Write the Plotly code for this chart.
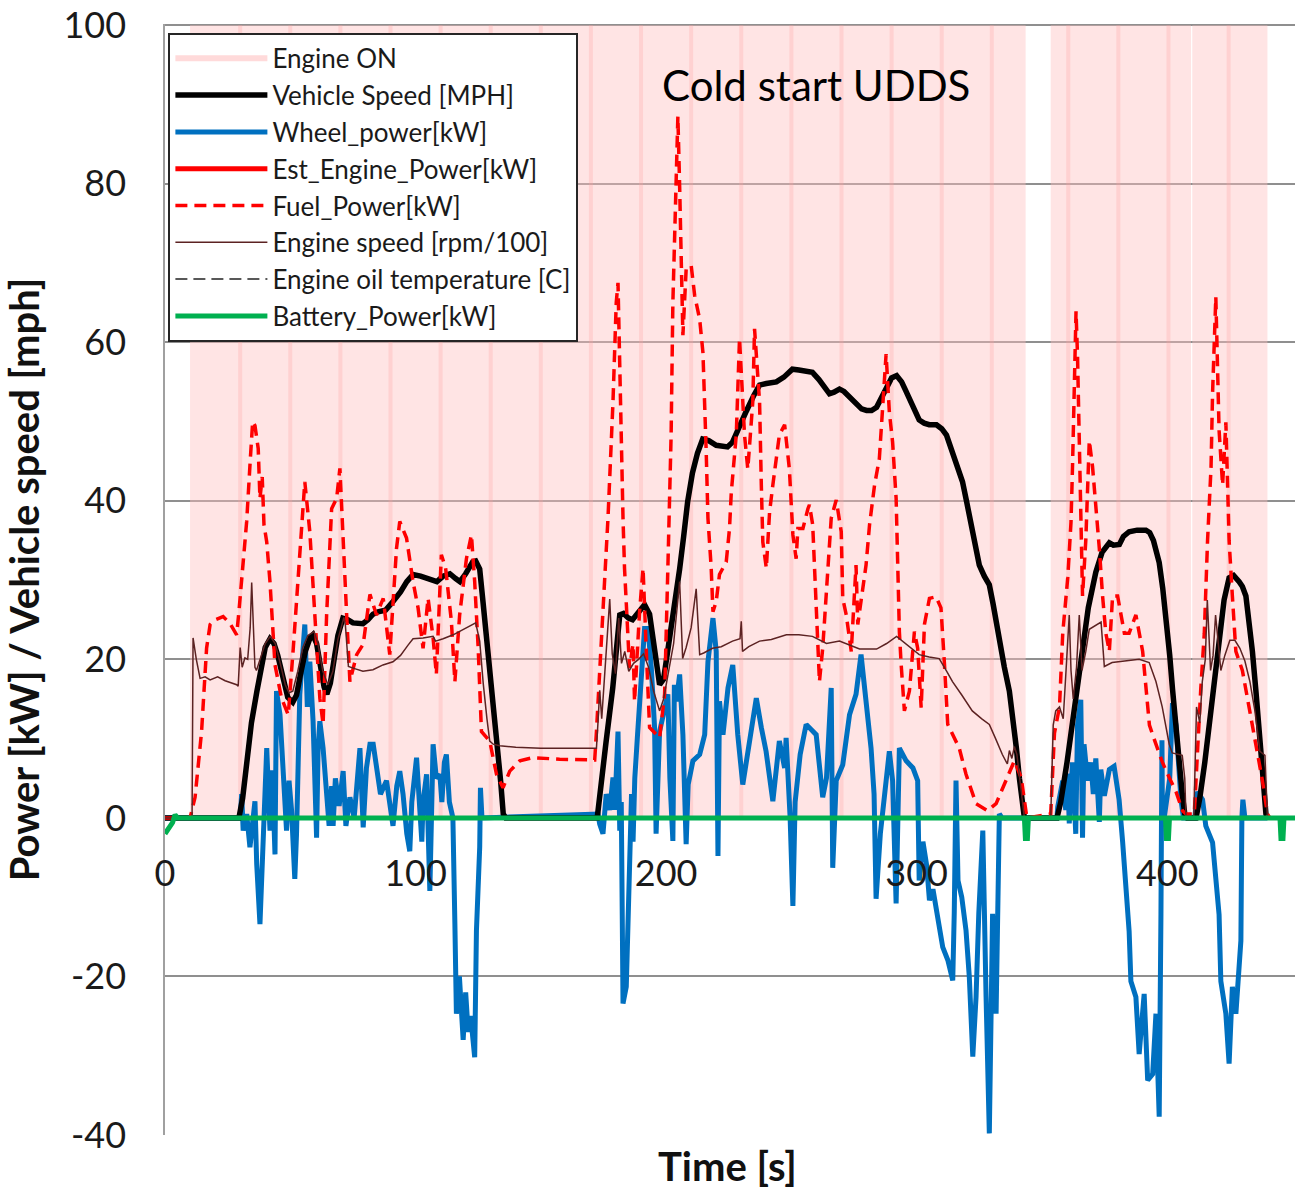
import plotly.graph_objects as go

# ---------------- data ----------------
engine_on_start = [10, 353.5, 410]
engine_on_end = [343.5, 409.5, 440]
engine_on_level = 100
stripe_times = [30, 50, 70, 90, 110, 130, 150, 170, 190, 210, 230, 250, 270, 290, 310, 330, 360.5, 380.5, 400.5, 424.5]

speed_t = [0, 29.5, 31, 32.7, 34.5, 36.7, 38.5, 40, 41.9, 43.5, 45, 47, 49, 51, 52.5, 54, 56, 58, 59, 60.5, 62, 63.5, 64.6, 66, 67.5, 69, 71, 73, 75, 79, 81, 83, 85, 88, 91, 94, 96.5, 99, 102, 105, 108.5, 111, 113.7, 116, 117.7, 120, 122.8, 124, 125.6, 127, 128.8, 130.5, 132.4, 134, 135, 136,
           172.5, 174, 176, 178.7, 180, 181.5, 183, 185, 186.6, 189, 191.4, 193.4, 195.4, 197.4, 199, 201.4, 203.5, 205.4, 207, 208.6, 210.5, 212.5, 214.6, 217, 220, 222.5, 224.5, 226.5, 229, 232, 235, 237.3, 240, 244, 247, 250.4, 253, 256, 258.4, 261, 263, 265.2, 267, 269.2, 271, 273.5, 276, 278, 280, 282, 284, 286, 288, 290, 292, 294, 295.5, 297.1, 299, 301, 303, 305, 307.9, 310, 311.9, 314, 316, 318.3, 320, 322, 323.5, 325, 327, 329, 330.5, 332, 333, 335, 337, 338.5, 339.8, 341, 342.2, 343,
           356, 357.5, 360, 362.2, 364, 366.2, 368.5, 371.5, 374, 376.9, 378.5, 380.9, 382.5, 384.8, 388, 391.5, 393, 394.5, 396.8, 398.2, 399.5, 401, 402.1, 403.5, 404.8, 406, 407, 408,
           411.5, 413, 415, 416.8, 418.8, 420.7, 422.7, 424.7, 426.5, 428.7, 430, 431.4, 432.7, 434, 435.4, 436.7, 438, 439.4, 440]
speed_v = [0, 0, 2.5, 7.2, 12, 16, 19, 21.5, 22.6, 22, 20.5, 17.5, 15.2, 14.6, 15.5, 18, 21, 22.8, 23.1, 22, 19.5, 16.5, 15.6, 17, 20, 23, 25.2, 25, 24.6, 24.5, 25, 25.7, 26, 26.2, 27.3, 28.5, 29.8, 30.7, 30.5, 30.2, 29.8, 30.5, 30.8, 30.2, 29.8, 30.8, 32.3, 32.4, 31.4, 27, 21.4, 16, 10.9, 4.5, 0.5, 0,
           0, 4.5, 9.5, 16.4, 21, 25.6, 25.8, 25.2, 25, 26, 26.9, 25.7, 21, 16.8, 17.5, 22.3, 27, 31.4, 35.5, 39.9, 43.5, 46, 47.8, 47.6, 47, 46.8, 46.8, 47.4, 49, 51.3, 53.3, 54.6, 54.8, 55, 55.6, 56.6, 56.5, 56.3, 56.2, 55.3, 54.3, 53.5, 53.7, 54.1, 53.8, 53, 52.2, 51.6, 51.4, 51.4, 51.8, 53, 54.5, 55.5, 55.8, 55, 54, 52.8, 51.4, 50.2, 49.8, 49.6, 49.6, 49.1, 48.3, 46.5, 44.5, 42.4, 39.8, 36.5, 34, 31.9, 30.5, 29.4, 27, 24, 21.9, 19, 16, 12.5, 8.8, 5, 0.9, 0,
           0, 2, 7, 12, 17, 22, 26.5, 31, 33.5, 34.7, 34.4, 34.5, 35.5, 36.1, 36.3, 36.3, 36, 35, 32.2, 29, 25.6, 20.5, 16.3, 11, 7, 3, 0.5, 0,
           0, 2.5, 7, 12, 18, 23.3, 27.5, 30.3, 30.6, 29.8, 29.2, 28, 25, 21, 16, 11.7, 6, 0.5, 0]

wheel_t = [0, 30, 30.6, 31.2, 32.6, 33.9, 35.9, 36.6, 37.9, 39.2, 40.6, 41.9, 42.8, 43.9, 44.5, 45.9, 47, 48.5, 49.5, 50.5, 51.8, 52.5, 53.8, 55.8, 56.8, 57.8, 59.1, 60.5, 61.1, 61.8, 63.1, 64.5, 65.5, 66.5, 67.1, 68, 69.5, 71.1, 72.2, 73.8, 75.5, 77.8, 79.1, 80.4, 81.8, 83.1, 84.5, 86, 88.4, 90, 91, 92.5, 93.7, 95, 96.5, 97.7, 98.5, 100.4, 101.5, 102.5, 103, 104.4, 105.7, 106.5, 107, 108.3, 109.7, 110.5, 111.5, 112.3, 113.5, 114.9, 115, 115.7, 116.3, 117.5, 119, 120, 121, 122, 123.6, 124.3, 125.6, 125.9, 126.5,
           172.8, 173.5, 174.8, 176.1, 177.5, 178.8, 179.5, 180.8, 181.5, 182.1, 182.8, 184.1, 185.4, 186.2, 186.8, 187.5, 188.5, 189.4, 191.4, 192.8, 194.1, 195.4, 196, 197.4, 198.7, 200.7, 201.5, 202.7, 203.3, 204.1, 205.4, 206.7, 208, 208.8, 210.7, 213.4, 215.4, 216.7, 218.7, 220, 220.7, 221.3, 222.7, 224.7, 226.6, 228.6, 230.6, 233.3, 236, 238, 239.9, 242.6, 245.2, 247.3, 247.9, 249.5, 250.6, 251.5, 253.5, 255.9, 257.2, 259.9, 262.5, 264, 265.9, 266.5, 267.9, 270.5, 273.2, 275.8, 277.8, 279.8, 281.8, 283, 283.8, 285.5, 287, 289.1, 290.4, 291.8, 293.1, 295.8, 298.5, 300.4, 301, 302.5, 304, 305.1, 306.5, 308, 310.4, 312.5, 314.4, 315, 315.7, 316.5, 318, 319.7, 321, 322.4, 323.7, 324.8, 326.4, 327.7, 329, 330.3, 331.7, 333, 334, 356,
           356.3, 358.3, 359.5, 360.3, 360.9, 362.2, 363.5, 364.2, 365.5, 366.2, 366.8, 368.2, 369.5, 370.5, 371.5, 372.9, 373.5, 374.9, 376.9, 378.8, 380.8, 382.2, 383.5, 384.8, 385.5, 387.5, 388.8, 390.8, 392.2, 394.2, 395.5, 396.8, 397.5, 397.9, 398.1, 398.8, 401, 402.1, 403.5, 405.5, 406.5,
           411, 412.1, 414.1, 415.4, 418.1, 420.7, 421.4, 423.4, 424.7, 426, 427.4, 429.4, 429.8, 430.2, 431, 440]
wheel_v = [0, 0, 3, -1.6, 0.5, -3.7, 2.1, -5.8, -13.4, -3.7, 8.8, -1.6, 6, -4.6, 16, 13, 7, -1.6, 4.7, 1, -7.7, -2, 15.6, 24.4, 14, 19.7, 12.2, -2.5, 8.8, 12.2, 8.8, 3.8, -1, 4, -1, 5, 1.5, 5.9, -1, 2.6, 0, 8.8, -1.2, 6.3, 9.3, 9.3, 6, 3, 4.7, 1, -1, 4, 5.9, 3, -2, -4.2, 2, 7.6, 2, -3, 2, 5.5, -9.2, 1, 9.3, 5, 5.5, 2, 7, 8, 2, 0, -3.7, -13.4, -24.7, -20, -28, -22, -27, -25, -30.2, -14.2, -3.7, 3.8, 0,
           0.5, -0.8, -2, 3, 1, 5.1, 1, 10.9, -1.6, 2, -23.4, -21.3, -5.8, 3, -3, 5, 10, 13.9, 23.9, 23.9, 18.9, 11.4, -2, 10.9, 12.6, 15.6, 5, -2.9, 16.8, 14.7, 18.1, 10.5, -3.3, 4.2, 7.2, 8, 10.5, 19.7, 25.2, 21, -4.8, 14.7, 10.5, 16.4, 19.3, 10.5, 4.2, 9.7, 15.1, 11.4, 8.4, 2.1, 9.7, 6.3, 10.1, 0, -11.1, 2, 8, 11.8, 11.4, 10.5, 2.6, 5, 16.4, -6.3, 4.7, 6.7, 13, 15.6, 20.6, 14.7, 8.8, 3, -10.2, -2, 3, 8.4, 4.7, -10.8, 8.8, 7.2, 6.3, 4.7, -7.9, -3, -6, -10.4, -9, -12, -16.3, -18, -20.5, -12, 4.7, -7.9, -10, -14.2, -20, -30.1, -22.6, -12, -1.6, -22.6, -39.8, -12.1, -24.7, 0.5, 0, 0,
           1.4, 4.7, 1, 5.6, -0.7, 7, -2, 11.7, 14.9, -2.5, 9.3, 4.7, 7, 3, 7.5, -0.5, 6.1, 2.8, 6.1, 6.5, 2.3, -3, -8.4, -14.3, -20.6, -22.6, -29.8, -22.2, -33.1, -32.3, -24.7, -37.7, -12.1, 9.8, -1, 0, 5, 14.5, 11.7, 2.3, 0,
           0, 3.3, 2.3, -1, -3.1, -12.2, -20.6, -24.7, -31, -21.3, -24.7, -15.5, 0, 2.3, 0, 0]

fuel_t = [0, 10, 12, 14.6, 16.6, 18, 20, 23.2, 26, 28.6, 29.5, 30.6, 32.6, 34, 35, 35.9, 37.2, 37.9, 38.8, 39.5, 40.6, 41.9, 43.9, 46.5, 49.2, 51.2, 53.8, 55.8, 57.8, 59.8, 61.8, 63.1, 64.5, 66.5, 68.5, 69.8, 71.1, 72.5, 73.8, 76.5, 79.1, 81.8, 84.4, 87.1, 89.7, 92.4, 93.7, 96.4, 99, 101, 103, 105, 107, 108.3, 110.3, 112, 114.3, 115.7, 117.6, 120.3, 122.3, 123.6, 125, 126.3, 129.6, 132.3, 134.9, 137.6, 141.6, 146.8, 157.5, 165.5, 171.5,
          172.2, 173.5, 175.5, 176.8, 178.8, 180.1, 180.8, 182.1, 182.8, 183.4, 185.4, 186.8, 187.4, 189.4, 190.8, 192.1, 193.4, 197.4, 199.4, 200.7, 201.4, 202, 202.7, 204.1, 204.7, 205.4, 206, 206.7, 208, 210, 211.4, 213.4, 214.7, 215.4, 216, 216.7, 218, 218.7, 220, 221.3, 224, 225.3, 226, 228, 229.3, 230.2, 231.3, 232.6, 234.6, 235.3, 236.2, 237.3, 238, 238.6, 240, 241.3, 242.6, 245.2, 247.3, 249.2, 250.6, 251.9, 252.6, 254.6, 256.6, 257.2, 258.5, 259.2, 259.9, 261.2, 262.5, 264.5, 265.9, 267.9, 269.9, 270.5, 271.9, 273.9, 275.2, 275.8, 276.5, 277.8, 279.8, 281.2, 283.2, 285.1, 286.5, 287.8, 289.1, 290.4, 291.8, 292.5, 293.1, 293.8, 295.1, 297.1, 299.1, 300.4, 301.8, 303.1, 305.1, 307.7, 309.7, 311.1, 312.4, 317, 319.7, 323.7, 328.3, 331.7, 335.7, 339, 341.7, 343.6, 344,
          353.5, 355, 357, 358.3, 360.3, 361.6, 362.2, 362.9, 363.6, 364.2, 364.9, 365.5, 366.2, 367.5, 368.9, 370.2, 371.5, 372.9, 374.2, 375.5, 376.9, 378.2, 380.2, 382.9, 384.8, 387.5, 390.2, 391.5, 392.9, 395.5, 398.1, 400.8, 403.5, 406.1, 407.5,
          410.8, 412.1, 413.4, 414.8, 416.1, 417.5, 418.1, 419.4, 420.1, 420.7, 422.1, 423.4, 424.1, 424.7, 426, 427.4, 430, 432.7, 435.4, 438, 440, 441]
fuel_v = [0, 0, 2.6, 10.9, 21.4, 24.4, 25, 25.4, 24.5, 23.1, 26, 29.8, 37.4, 45, 50, 49.5, 46.6, 40.3, 43, 37, 34.8, 29.8, 19.3, 15.1, 13, 21.4, 34, 42.4, 36.1, 25.6, 15.1, 11.8, 25.6, 39, 40.3, 44.1, 34, 25.6, 17.2, 20.6, 21.9, 28.2, 25.6, 27.7, 20.6, 34, 37.4, 35.3, 29.8, 26.5, 21.4, 27.7, 22.7, 18.1, 33.2, 31.5, 24.8, 17.2, 25.6, 32.7, 35.7, 29.8, 21.4, 10.9, 9.7, 5.5, 3.8, 5.9, 7.2, 7.6, 7.4, 7.4, 7.3,
          10.9, 18.9, 29.4, 37.8, 52.5, 65, 67.5, 46.2, 37.8, 31.5, 18.9, 21.9, 14.7, 26, 31.5, 21, 11.4, 10.1, 15.6, 31.5, 39, 48.3, 65, 79.7, 88.5, 79.7, 71.3, 60.9, 69.2, 69.7, 65.9, 62.9, 58.7, 52.5, 46.2, 37.8, 31.5, 26, 27.3, 30.7, 32.3, 36.5, 41, 48.3, 60.5, 55, 48.3, 44, 52.5, 61.7, 58, 52.5, 42, 34.8, 31.5, 38.6, 42, 48.3, 49.6, 44, 35.7, 32.7, 36.5, 36.5, 39, 39.5, 37, 31.9, 27.7, 17.2, 21.4, 31.9, 37.8, 40.1, 36.1, 27.7, 25.6, 21, 27.7, 31.9, 24.4, 27.7, 31.9, 37, 42, 45.3, 52.9, 58.5, 51.2, 47.4, 40.3, 31.9, 23.5, 19.4, 13.5, 16, 23.5, 21.4, 13.9, 24.4, 27.7, 27.9, 26.5, 19.4, 11.8, 8.8, 5.5, 1.8, 0.9, 1.8, 4.7, 7.2, 5.1, 1.3, 0,
          0.5, 10.7, 14, 23.3, 30.3, 37.3, 44.3, 53.6, 63.9, 58.3, 48.9, 39.6, 28, 35, 47.6, 44.3, 39.6, 34, 28, 23.3, 21, 28, 28, 23.3, 23.3, 25.6, 21, 16.3, 11.7, 9.3, 7, 5.1, 3.3, 0.9, 0.5,
          0.5, 9.3, 16.3, 23.3, 35, 44.3, 53.6, 65.7, 58.3, 48.9, 42, 49.9, 42, 35, 28, 21, 18.6, 14, 9.3, 4.7, 0.5, 0]

rpm_t = [0, 10.8, 11.2, 12.5, 14, 16, 18, 21, 24, 28.6, 29.2, 30, 30.8, 31.9, 33, 34, 34.6, 35.3, 35.9, 36.5, 38, 40, 42, 44, 46, 48, 49.5, 51, 53, 55, 57, 59.5, 61, 63, 65, 67, 69, 71.4, 72, 73.2, 76, 79, 83, 87, 91, 94, 97, 99, 103, 107, 108, 111, 115, 119, 123, 124, 125.6, 127, 128.5, 129.6, 131, 133.6, 140, 150, 160, 172.2,
         172.8, 173.5, 174.3, 175.5, 176.5, 177.5, 178.5, 179.8, 181.1, 182.2, 183.5, 185.1, 187, 189, 191, 193, 195, 197.4, 199, 201, 203, 205.4, 206.6, 208, 210, 212, 213.4, 215, 218.5, 222, 226.5, 229.5, 230, 230.5, 233, 237.3, 242, 248, 253, 258.4, 264, 269.2, 273, 277.2, 284, 288, 292, 296, 301, 305, 309, 312, 314.3, 318, 322.2, 326, 329, 331.5, 334.2, 336.2, 337, 338, 339, 340, 342.2, 343,
         353.5, 354.5, 355.5, 357, 358.5, 360, 360.9, 361.6, 362.5, 363.8, 364.9, 366, 367.5, 368.9, 371, 373.6, 374.9, 378, 383, 388.8, 392.8, 395.5, 398, 400.8, 402, 406, 407, 407.5,
         410.6, 411.7, 413, 414, 415.2, 416, 417.3, 418.3, 419.3, 420.3, 421.4, 423, 425, 427, 429, 431, 433, 435, 437, 439, 439.7, 440]
rpm_v = [0, 0, 22.7, 20, 17.6, 17.8, 17.4, 17.8, 17.3, 16.8, 16.6, 21.5, 19, 20.2, 20, 24, 29.7, 24.5, 19, 18.6, 20, 22, 22.9, 22, 19.5, 16.8, 15.8, 16, 18.5, 21.5, 23, 23.5, 22, 18.5, 16.8, 18.5, 22.5, 25.3, 24.3, 19.1, 18.8, 18.5, 18.7, 19.3, 19.7, 20.5, 21.8, 22.6, 22.7, 22.9, 22.3, 22.6, 23.1, 23.8, 24.4, 24.6, 22.3, 17, 12.5, 9.7, 9.3, 9.1, 8.9, 8.8, 8.8, 8.8,
         12, 16.1, 12.5, 18, 22, 27.6, 20.7, 18.2, 25.2, 19.5, 21, 18.5, 19.5, 20, 20.7, 19, 16, 13.5, 15, 18.5, 22, 29.8, 20.1, 21.5, 24, 28.9, 20.6, 20.8, 21.4, 21.6, 22.3, 22.6, 24.8, 21, 21.6, 22.3, 22.5, 23.1, 23.1, 22.9, 22, 22.3, 21.8, 21.3, 21.3, 22, 22.9, 21.9, 20.6, 20.3, 20.1, 18.5, 17.2, 15.5, 13.5, 12.5, 11.8, 10, 8, 6.8, 8.5, 7.5, 9, 8, 2, 0,
         0, 11.7, 13.5, 14, 12.5, 20, 25.6, 18.6, 15, 19, 25.6, 18.6, 21, 23.8, 24.2, 24.7, 19.1, 19.6, 19.8, 20, 19.6, 17.2, 14, 9.3, 8.2, 7.9, 5, 0,
         0, 14, 12, 17.2, 20, 27.5, 18.6, 20.5, 25.6, 22, 18.6, 20.5, 22.4, 22.4, 21.4, 19.8, 17.2, 13.5, 8.4, 7.9, 3, 0]

# series listed in the legend but with no visible data in the chart
est_engine_t = [None]
est_engine_v = [None]
oil_temp_t = [None]
oil_temp_v = [None]

battery_t = [0, 1, 3, 4, 5, 343, 343.4, 344.2, 344.6, 399.3, 399.7, 400.5, 400.9, 445, 445.4, 446.2, 446.6, 451]
battery_v = [-2, -1.6, -0.6, 0.4, 0, 0, -2.6, -2.6, 0, 0, -2.6, -2.6, 0, 0, -2.6, -2.6, 0, 0]

title_text = "Cold start UDDS"
x_ticks = [0, 100, 200, 300, 400]
y_ticks = [-40, -20, 0, 20, 40, 60, 80, 100]
y_tick_text = ["-40", "-20", "0", "20", "40", "60", "80", "100"]

# ---------------- figure ----------------
FONT = "Lato, 'Open Sans', sans-serif"
Y_MIN, Y_MAX = -40, 100.15

on_x, on_y = [], []
for s, e in zip(engine_on_start, engine_on_end):
    on_x += [s, s, e, e, s, None]
    on_y += [0, engine_on_level, engine_on_level, 0, 0, None]

st_x, st_y = [], []
for s in stripe_times:
    st_x += [s, s, None]
    st_y += [0, engine_on_level, None]

fig = go.Figure()
fig.add_trace(go.Scatter(x=on_x, y=on_y, mode="lines", fill="toself",
                         fillcolor="rgba(255,190,190,0.42)", line=dict(width=0),
                         showlegend=False, hoverinfo="skip"))
fig.add_trace(go.Scatter(x=st_x, y=st_y, mode="lines",
                         line=dict(color="rgba(255,160,160,0.28)", width=4),
                         showlegend=False, hoverinfo="skip"))
fig.add_trace(go.Scatter(x=[None], y=[None], mode="lines", name="Engine ON",
                         line=dict(color="#FFDADA", width=6), legendrank=1))

fig.add_trace(go.Scatter(x=wheel_t, y=wheel_v, mode="lines", name="Wheel_power[kW]",
                         line=dict(color="#0070C0", width=5), legendrank=3))
fig.add_trace(go.Scatter(x=speed_t, y=speed_v, mode="lines", name="Vehicle Speed [MPH]",
                         line=dict(color="#000000", width=5.5), legendrank=2))
fig.add_trace(go.Scatter(x=est_engine_t, y=est_engine_v, mode="lines", name="Est_Engine_Power[kW]",
                         line=dict(color="#FF0000", width=5), legendrank=4))
fig.add_trace(go.Scatter(x=fuel_t, y=fuel_v, mode="lines", name="Fuel_Power[kW]",
                         line=dict(color="#FF0000", width=3.5, dash="12px,7px"), legendrank=5))
fig.add_trace(go.Scatter(x=rpm_t, y=rpm_v, mode="lines", name="Engine speed [rpm/100]",
                         line=dict(color="#5C2222", width=1.5), legendrank=6))
fig.add_trace(go.Scatter(x=oil_temp_t, y=oil_temp_v, mode="lines", name="Engine oil temperature [C]",
                         line=dict(color="#222222", width=1.5, dash="12px,6px"), legendrank=7))
fig.add_trace(go.Scatter(x=battery_t, y=battery_v, mode="lines", name="Battery_Power[kW]",
                         line=dict(color="#00B050", width=5), legendrank=8))

fig.update_layout(
    width=1297, height=1189,
    margin=dict(l=165, r=2, t=21, b=54),
    paper_bgcolor="white", plot_bgcolor="white",
    font=dict(family=FONT, color="#1a1a1a"),
    showlegend=True,
    legend=dict(x=0.003, y=0.992, xanchor="left", yanchor="top",
                bgcolor="white", bordercolor="#262626", borderwidth=2,
                font=dict(family=FONT, size=26, color="#1a1a1a"),
                traceorder="normal", itemwidth=92, tracegroupgap=0),
    xaxis=dict(range=[0, 451], tickvals=x_ticks, showgrid=False, zeroline=False,
               showline=False, ticks="", anchor="free",
               position=(0 - Y_MIN) / (Y_MAX - Y_MIN),
               tickfont=dict(size=36, color="#1a1a1a"), ticklabelstandoff=31),
    yaxis=dict(range=[Y_MIN, Y_MAX], tickvals=y_ticks, ticktext=y_tick_text, showgrid=True,
               gridcolor="#8f8f8f", gridwidth=1.5, zeroline=False,
               showline=True, linecolor="#a0a0a0", linewidth=1.5, ticks="",
               ticklabeloverflow="allow",
               tickfont=dict(size=36, color="#1a1a1a"), ticklabelstandoff=30,
               title=dict(text="<b>Power [kW] / Vehicle speed [mph]</b>",
                          font=dict(size=40, color="#111111"), standoff=12)),
    annotations=[
        dict(text=title_text, x=260, y=92.4, xref="x", yref="y", showarrow=False,
             font=dict(size=42, color="#000000", family=FONT)),
        dict(text="<b>Time [s]</b>", x=0.498, y=0, xref="paper", yref="paper",
             yanchor="middle", yshift=-31, showarrow=False,
             font=dict(size=40, color="#111111", family=FONT)),
    ],
)

fig.write_html("out.html")
